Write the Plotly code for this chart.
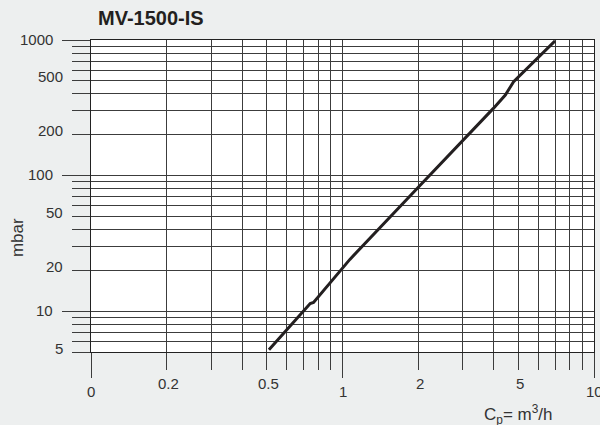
import math
import plotly.graph_objects as go

# ---- data ----
flow = [0.51, 0.70, 0.744, 0.767, 0.979, 1.07, 1.98, 2.60, 2.94, 3.98, 4.44, 4.79, 7.0]
dp = [5.2, 9.9, 11.4, 11.6, 20.1, 24.1, 80.4, 136, 173, 313, 393, 492, 985]

x_label_vals = [0.1, 0.2, 0.5, 1, 2, 5, 10]
x_label_text = ["0", "0.2", "0.5", "1", "2", "5", "10"]
y_label_vals = [5, 10, 20, 50, 100, 200, 500, 1000]
y_label_text = ["5", "10", "20", "50", "100", "200", "500", "1000"]

x_major = [0.1, 1, 10]
x_minor = [0.2, 0.3, 0.4, 0.5, 0.6, 0.7, 0.8, 0.9, 2, 3, 4, 5, 6, 7, 8, 9]
y_major = [10, 100, 1000]
y_minor = [5, 6, 7, 8, 9, 20, 30, 40, 50, 60, 70, 80, 90,
           200, 300, 400, 500, 600, 700, 800, 900]

title_text = "MV-1500-IS"
y_title = "mbar"
x_title = "C<sub>p</sub>= m<sup>3</sup>/h"

# ---- styling ----
FONT = "Liberation Sans, Arial, sans-serif"
BG = "#edefef"
GRID = "#3c3c3c"
TXT = "#333333"
CURVE = "#231f20"


def is_major(v):
    return abs(math.log10(v) - round(math.log10(v))) < 1e-9


fig = go.Figure()
fig.add_trace(go.Scatter(x=flow, y=dp, mode="lines",
                         line=dict(color=CURVE, width=3), showlegend=False,
                         hoverinfo="skip"))

axis_common = dict(
    type="log", tickmode="array", ticks="outside", tickwidth=1,
    tickcolor=GRID, showticklabels=False, showgrid=True, gridcolor=GRID,
    gridwidth=1, zeroline=False, showline=True, mirror=True,
    linecolor="#222222", linewidth=1,
)

fig.update_xaxes(range=[-1, 1], tickvals=x_major, ticklen=25,
                 minor=dict(tickmode="array", tickvals=x_minor, ticks="outside",
                            ticklen=17, tickcolor=GRID, tickwidth=1,
                            showgrid=True, gridcolor=GRID, gridwidth=1),
                 **axis_common)
fig.update_yaxes(range=[math.log10(5), 3], tickvals=y_major, ticklen=28,
                 minor=dict(tickmode="array", tickvals=y_minor, ticks="outside",
                            ticklen=18, tickcolor=GRID, tickwidth=1,
                            showgrid=True, gridcolor=GRID, gridwidth=1),
                 **axis_common)

annotations = []
for v, t in zip(x_label_vals, x_label_text):
    maj = is_major(v)
    annotations.append(dict(
        x=math.log10(v), xref="x", y=0, yref="paper", text=t,
        showarrow=False, xanchor="center", yanchor="middle",
        xshift=0 if maj else 2, yshift=-39 if maj else -31,
        font=dict(family=FONT, size=15, color=TXT)))
for v, t in zip(y_label_vals, y_label_text):
    maj = is_major(v)
    annotations.append(dict(
        x=0, xref="paper", y=math.log10(v), yref="y", text=t,
        showarrow=False, xanchor="right", yanchor="middle",
        xshift=-36 if maj else -26, yshift=1 if maj else 4,
        font=dict(family=FONT, size=15, color=TXT)))

annotations.append(dict(
    x=0, xref="paper", y=0.365, yref="paper", text=y_title, textangle=-90,
    showarrow=False, xanchor="center", yanchor="middle", xshift=-74,
    font=dict(family=FONT, size=17, color=TXT)))
annotations.append(dict(
    x=1, xref="paper", y=0, yref="paper", text=x_title,
    showarrow=False, xanchor="right", yanchor="middle", xshift=-39, yshift=-62,
    font=dict(family=FONT, size=17, color=TXT)))
annotations.append(dict(
    x=0, xref="paper", y=1, yref="paper", text="<b>%s</b>" % title_text,
    showarrow=False, xanchor="center", yanchor="middle", xshift=59.5, yshift=22,
    font=dict(family=FONT, size=20, color="#231f20")))

fig.update_layout(
    width=600, height=425,
    margin=dict(l=91, r=6, t=40, b=73, autoexpand=False),
    paper_bgcolor=BG, plot_bgcolor="#ffffff",
    annotations=annotations, showlegend=False,
)

fig.write_html("out.html", config={"displayModeBar": False},
               post_script="document.body.style.margin='0';document.body.style.overflow='hidden';")
